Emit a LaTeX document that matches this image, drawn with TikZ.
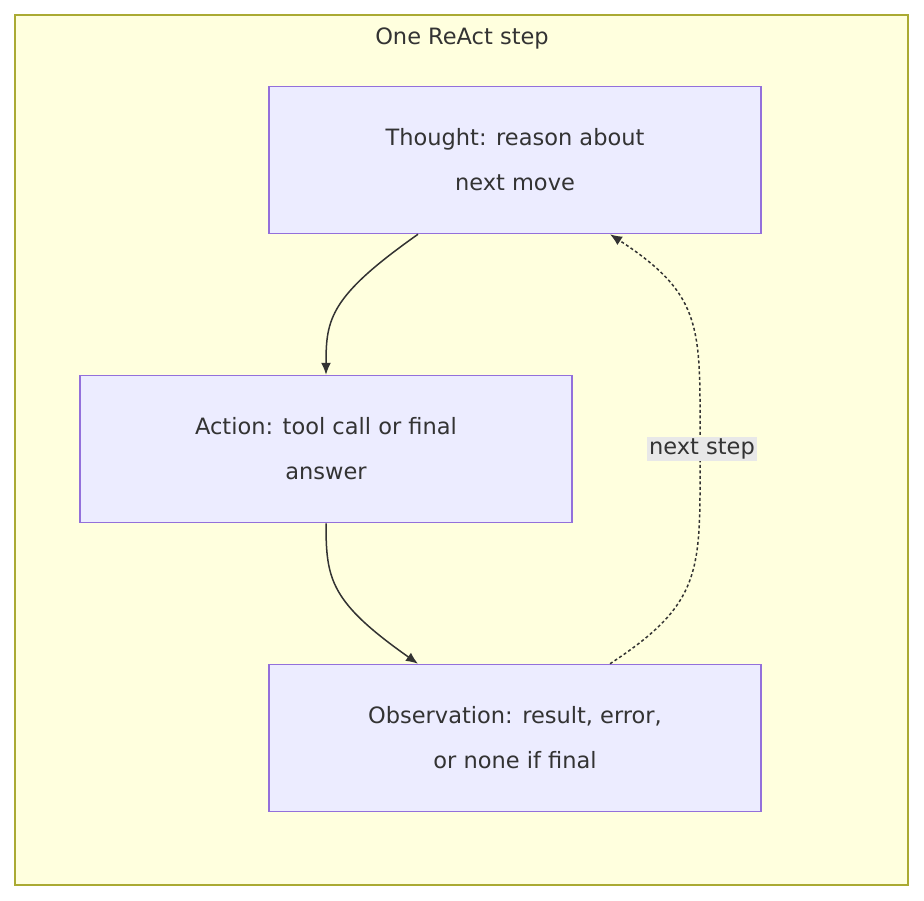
\documentclass[tikz,border=0pt]{standalone}
\usepackage{fontspec}
\setmainfont{DejaVu Sans}
\usetikzlibrary{positioning, arrows.meta}
\definecolor{clusterfill}{HTML}{FFFFDE}
\definecolor{clusterline}{HTML}{AAAA33}
\definecolor{boxfill}{HTML}{ECECFF}
\definecolor{boxline}{HTML}{9370DB}
\definecolor{ink}{HTML}{333333}
\definecolor{labelfill}{HTML}{E8E8E8}
\tikzset{
  step box/.style={draw=boxline, fill=boxfill, line width=1.5pt, minimum width=492pt,
    minimum height=147pt, align=center, text=ink, font=\fontsize{22.5}{45}\selectfont},
  flow/.style={ink, line width=1.5pt, -{Latex[length=12pt,width=10pt]}},
  loop back/.style={flow, dash pattern=on 3pt off 2.5pt}
}
\begin{document}
\begin{tikzpicture}[x=1pt, y=-1pt]
    \useasboundingbox (0,0) rectangle (924,900);
    % cluster
    \draw[clusterline, fill=clusterfill, line width=1.5pt] (15,15) rectangle (908,885);
    \node[text=ink, font=\fontsize{22.5}{27}\selectfont] (title) at (462,38) {One ReAct step};
    % steps
    \node[step box] (thought) at (515,160) {Thought: reason about\\next move};
    \node[step box] (action) at (326,449) {Action: tool call or final\\answer};
    \node[step box] (observation) at (515,738) {Observation: result, error,\\or none if final};
    % edges
    \draw[flow] ([xshift=-97pt]thought.south) .. controls +(-88,62) and +(0,-56) .. (action.north);
    \draw[flow] (action.south) .. controls +(0,56) and +(-88,-62) .. ([xshift=-97pt]observation.north);
    \draw[loop back] ([xshift=95pt]observation.north) .. controls +(95,-62) and +(0,120) .. (700,449)
        .. controls +(0,-120) and +(95,62) .. ([xshift=95pt]thought.south);
    \node[fill=labelfill, text=ink, inner sep=2pt, font=\fontsize{22.5}{27}\selectfont] (next) at (702,449) {next step};
\end{tikzpicture}
\end{document}
